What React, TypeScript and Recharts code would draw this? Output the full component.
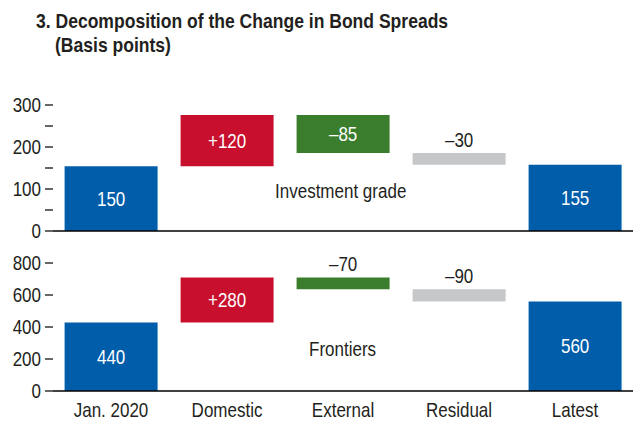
import { Bar, BarChart, Cell, LabelList, XAxis, YAxis } from "recharts";

const categories = ["Jan. 2020", "Domestic", "External", "Residual", "Latest"];

// investment grade: level before and after each step
const igFrom = [0, 154, 276, 186, 0];
const igTo = [154, 276, 186, 158, 158];
const igLabels = ["150", "+120", "–85", "–30", "155"];
const igLabelAbove = [false, false, false, true, false];
const igTicks = [0, 50, 100, 150, 200, 250, 300];

// frontiers
const frFrom = [0, 428, 710, 636, 0];
const frTo = [428, 710, 636, 560, 560];
const frLabels = ["440", "+280", "–70", "–90", "560"];
const frLabelAbove = [false, false, true, true, false];
const frTicks = [0, 200, 400, 600, 800];

const barColors = ["#005DAA", "#C8102E", "#3A7D2C", "#C6C7C9", "#005DAA"];
const edgeTicks = [0, 1, 2, 3, 4, 5];

// Arial Narrow look: Liberation Sans squeezed horizontally
const FONT = "'Liberation Sans', Arial, sans-serif";
const SQUEEZE = 0.85;
const FS = 20;
const INK = "#231F20";

function buildRows(from: number[], to: number[], labels: string[], above: boolean[]) {
  return categories.map((name, i) => ({
    name,
    base: Math.min(from[i], to[i]),
    span: Math.abs(to[i] - from[i]),
    label: labels[i],
    above: above[i],
  }));
}

const igRows = buildRows(igFrom, igTo, igLabels, igLabelAbove);
const frRows = buildRows(frFrom, frTo, frLabels, frLabelAbove);

function NarrowText({ x, y, anchor, fill, dy, children }: any) {
  return (
    <g transform={`translate(${x},${y})`}>
      <text
        x={0}
        y={0}
        dy={dy}
        transform={`scale(${SQUEEZE},1)`}
        textAnchor={anchor}
        fill={fill}
        fontSize={FS}
        fontFamily={FONT}
      >
        {children}
      </text>
    </g>
  );
}

const makeLabel = (rows: any[]) => (props: any) => {
  const { x, y, width, height, index } = props;
  const row = rows[index];
  const cx = Number(x) + Number(width) / 2;
  if (row.above) {
    return (
      <NarrowText x={cx} y={Number(y) - 6} anchor="middle" fill={INK}>
        {row.label}
      </NarrowText>
    );
  }
  return (
    <NarrowText x={cx} y={Number(y) + Number(height) / 2} dy="0.36em" anchor="middle" fill="#fff">
      {row.label}
    </NarrowText>
  );
};

const YTick = (fmt: (v: number) => string) => (props: any) => {
  const { x, y, payload } = props;
  return (
    <NarrowText x={x} y={y} dy="0.36em" anchor="end" fill={INK}>
      {fmt(payload.value)}
    </NarrowText>
  );
};

const XTick = (props: any) => {
  const { x, y, payload } = props;
  return (
    <NarrowText x={x} y={y} dy="0.72em" anchor="middle" fill={INK}>
      {payload.value}
    </NarrowText>
  );
};

function Panel({ rows, top, height, marginTop, xHeight, ticks, domain, showCats, tickLabel }: any) {
  return (
    <div style={{ position: "absolute", left: 0, top }}>
      <BarChart width={635} height={height} data={rows} margin={{ top: marginTop, right: 2, left: 0, bottom: 0 }}>
        <XAxis
          dataKey="name"
          height={xHeight}
          axisLine={{ stroke: "#000", strokeWidth: 1.5 }}
          tickLine={false}
          tickSize={0}
          tickMargin={12}
          tick={showCats ? XTick : false}
        />
        <XAxis
          xAxisId="edge"
          type="number"
          domain={[0, 5]}
          ticks={edgeTicks}
          allowDataOverflow
          mirror
          height={0}
          axisLine={false}
          tickSize={7}
          tickLine={{ stroke: "#000", strokeWidth: 1.2 }}
          tickFormatter={() => ""}
        />
        <YAxis
          width={53}
          domain={domain}
          ticks={ticks}
          interval={0}
          axisLine={false}
          tickSize={8}
          tickMargin={4}
          tickLine={{ stroke: "#000", strokeWidth: 1.2 }}
          tick={YTick(tickLabel)}
        />
        <Bar dataKey="base" stackId="w" fill="transparent" isAnimationActive={false} />
        <Bar dataKey="span" stackId="w" barSize={91} isAnimationActive={false}>
          {rows.map((_: any, i: number) => (
            <Cell key={i} fill={barColors[i]} />
          ))}
          <LabelList dataKey="label" content={makeLabel(rows)} />
        </Bar>
      </BarChart>
    </div>
  );
}

const squeezed = (k: number) => ({
  display: "inline-block",
  transform: `scaleX(${k})`,
  transformOrigin: "left center",
  whiteSpace: "nowrap" as const,
});

export default function App() {
  return (
    <div style={{ position: "absolute", left: 0, top: 0, width: 635, height: 422, background: "#fff", fontFamily: FONT, color: INK }}>
      <div style={{ position: "absolute", left: 36, top: 9, fontSize: 21, fontWeight: 700, lineHeight: "24px" }}>
        <div><span style={squeezed(0.835)}>3. Decomposition of the Change in Bond Spreads</span></div>
        <div style={{ paddingLeft: 19 }}><span style={squeezed(0.835)}>(Basis points)</span></div>
      </div>
      <Panel
        rows={igRows}
        top={0}
        height={250}
        marginTop={105}
        xHeight={19}
        ticks={igTicks}
        domain={[0, 300]}
        showCats={false}
        tickLabel={(v: number) => (v % 100 === 0 ? String(v) : "")}
      />
      <Panel
        rows={frRows}
        top={250}
        height={172}
        marginTop={13}
        xHeight={31}
        ticks={frTicks}
        domain={[0, 800]}
        showCats={true}
        tickLabel={(v: number) => String(v)}
      />
      <div style={{ position: "absolute", left: 275, top: 179, fontSize: 20, lineHeight: "24px" }}>
        <span style={squeezed(SQUEEZE)}>Investment grade</span>
      </div>
      <div style={{ position: "absolute", left: 309, top: 337, fontSize: 20, lineHeight: "24px" }}>
        <span style={squeezed(SQUEEZE)}>Frontiers</span>
      </div>
    </div>
  );
}
